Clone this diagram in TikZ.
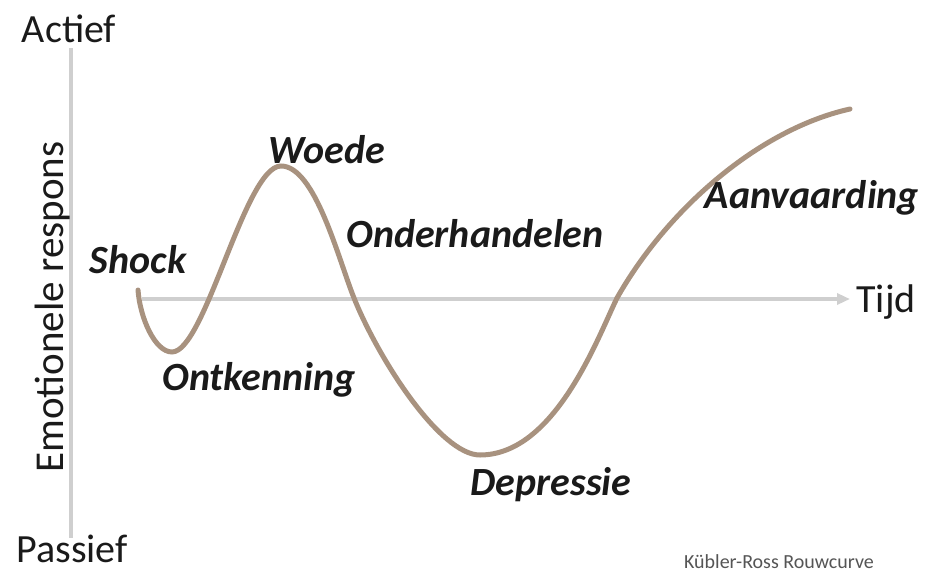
\documentclass[tikz,border=0pt]{standalone}
\usepackage{fontspec}
\setmainfont{Carlito}
\usetikzlibrary{arrows.meta}
\definecolor{curvecol}{HTML}{A8927F}
\definecolor{axiscol}{HTML}{CFCFCF}
\definecolor{txtcol}{HTML}{1A1A1A}
\definecolor{capcol}{HTML}{555555}
\tikzset{
  axisline/.style={draw=axiscol, line width=4pt},
  stagelabel/.style={text=txtcol, inner sep=0pt, font=\fontsize{40}{48}\selectfont\bfseries\itshape, anchor=base},
  axislabel/.style={text=txtcol, inner sep=0pt, font=\fontsize{40}{48}\selectfont, anchor=base},
  grief/.style={draw=curvecol, line width=5pt, line cap=round}
}
\begin{document}
\begin{tikzpicture}[x=1pt, y=-1pt]
\useasboundingbox (0,0) rectangle (926,573);
% axes
\coordinate (vtop) at (71,48);
\coordinate (vbot) at (71,538);
\coordinate (hstart) at (142,299);
\coordinate (hend) at (850,299);
\draw[axisline] (vtop) -- (vbot);
\draw[axisline, -{Triangle[length=13pt,width=11pt]}] (hstart) -- (hend);
% axis labels
\node[axislabel] (actief) at (69,42) {Actief};
\node[axislabel] (passief) at (72,562) {Passief};
\node[axislabel, rotate=90, font=\fontsize{41}{48}\selectfont] (emo) at (63,307) {Emotionele respons};
\node[axislabel] (tijd) at (886,312) {Tijd};
% curve
\coordinate (s) at (138,290);
\coordinate (m1) at (172,352);
\coordinate (pk) at (281,166);
\coordinate (c2) at (354,298);
\coordinate (m2) at (480,455);
\coordinate (c3) at (617,298);
\coordinate (e) at (850,109);
\draw[grief] (s) .. controls (140,318) and (155,352) .. (m1)
  .. controls (205,352) and (245,166) .. (pk)
  .. controls (315,166) and (338,258) .. (c2)
  .. controls (378,358) and (440,455) .. (m2)
  .. controls (555,455) and (598,337) .. (c3)
  .. controls (668,208) and (760,129) .. (e);
% stage labels
\node[stagelabel] (woede) at (327,163) {Woede};
\node[stagelabel] (onder) at (475,247) {Onderhandelen};
\node[stagelabel] (shock) at (138,273) {Shock};
\node[stagelabel] (ontk) at (259,390) {Ontkenning};
\node[stagelabel] (depr) at (551,495) {Depressie};
\node[stagelabel] (aanv) at (812,208) {Aanvaarding};
% caption
\node[text=capcol, inner sep=0pt, anchor=base, font=\fontsize{20}{22}\selectfont] (cap) at (779,568) {Kübler-Ross Rouwcurve};
\end{tikzpicture}
\end{document}
